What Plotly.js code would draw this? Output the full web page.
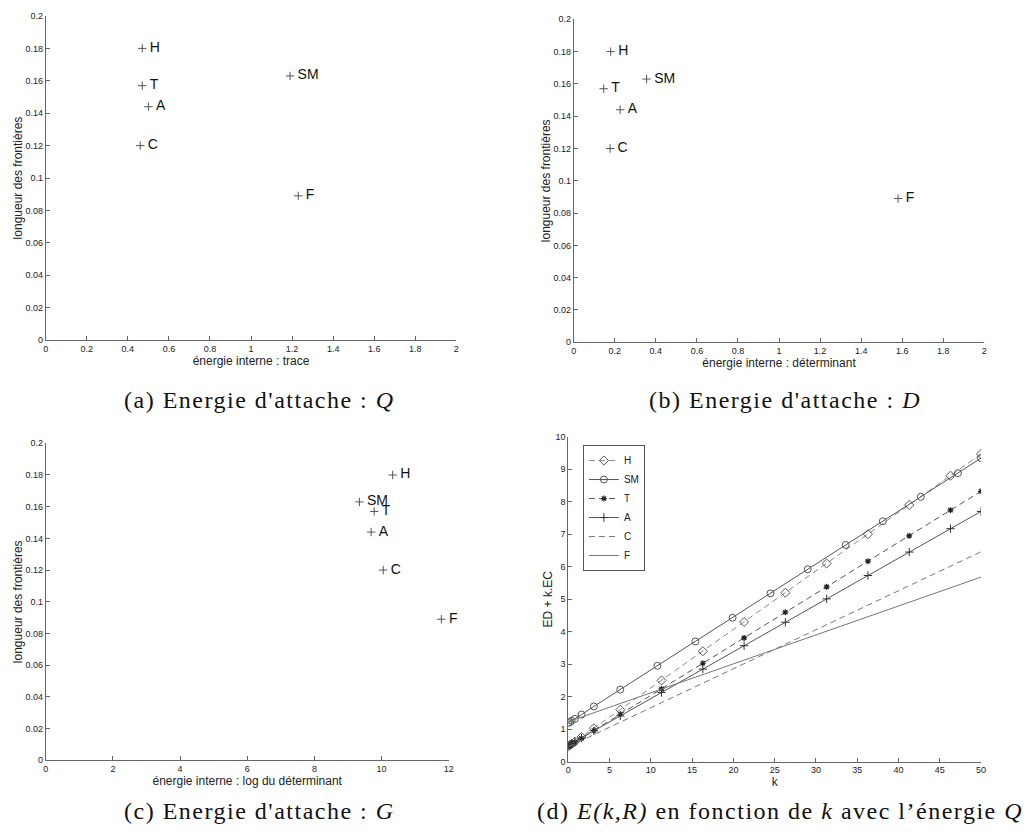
<!DOCTYPE html>
<html>
<head>
<meta charset="utf-8">
<script src="https://cdn.plot.ly/plotly-3.0.1.min.js"></script>
<style>
  html, body { margin: 0; padding: 0; background: #ffffff; }
  #chart { width: 1028px; height: 832px; }
  .annotation-text { letter-spacing: 1.5px; }
</style>
</head>
<body>
<div id="chart"></div>
<script>
// ---- Data for panels (a)-(c) ----
const labels = ['H', 'SM', 'T', 'A', 'C', 'F'];
const boundaryLength = [0.180, 0.163, 0.157, 0.144, 0.120, 0.089];
const energyTrace = [0.47, 1.19, 0.47, 0.50, 0.46, 1.23];
const energyDet = [0.18, 0.355, 0.146, 0.226, 0.177, 1.58];
const energyLogDet = [10.33, 9.34, 9.78, 9.69, 10.05, 11.78];

// ---- Data for panel (d) ----
const kH = [0, 0.2, 0.4, 0.8, 1.6, 3.1, 6.3, 11.3, 16.3, 21.3, 26.3, 31.3, 36.3, 41.3, 46.3, 50];
const eH = [0.47, 0.51, 0.54, 0.61, 0.76, 1.03, 1.60, 2.50, 3.40, 4.30, 5.20, 6.10, 7.00, 7.90, 8.80, 9.47];
const kSM = [0, 0.2, 0.4, 0.8, 1.6, 3.1, 6.3, 10.8, 15.4, 19.9, 24.5, 29.0, 33.6, 38.1, 42.7, 47.2, 50];
const eSM = [1.19, 1.22, 1.26, 1.32, 1.45, 1.70, 2.22, 2.95, 3.70, 4.43, 5.18, 5.92, 6.67, 7.40, 8.15, 8.88, 9.34];
const kT = [0, 0.2, 0.4, 0.8, 1.6, 3.1, 6.3, 11.3, 16.3, 21.3, 26.3, 31.3, 36.3, 41.3, 46.3, 50];
const eT = [0.47, 0.50, 0.53, 0.60, 0.72, 0.96, 1.46, 2.24, 3.03, 3.81, 4.60, 5.38, 6.17, 6.95, 7.74, 8.32];
const kA = [0, 0.2, 0.4, 0.8, 1.6, 3.1, 6.3, 11.3, 16.3, 21.3, 26.3, 31.3, 36.3, 41.3, 46.3, 50];
const eA = [0.50, 0.53, 0.56, 0.62, 0.73, 0.95, 1.41, 2.13, 2.85, 3.57, 4.29, 5.01, 5.73, 6.45, 7.17, 7.70];
const kC = [0, 10, 20, 30, 40, 50];
const eC = [0.46, 1.66, 2.86, 4.06, 5.26, 6.46];
const kF = [0, 10, 20, 30, 40, 50];
const eF = [1.23, 2.12, 3.01, 3.90, 4.79, 5.68];

const captions = [
  "(a) Energie d'attache : <i>Q</i>",
  "(b) Energie d'attache : <i>D</i>",
  "(c) Energie d'attache : <i>G</i>",
  "(d) <i>E(k,R)</i> en fonction de <i>k</i> avec l\u2019\u00e9nergie <i>Q</i>"
];

const SANS = 'Liberation Sans, Arial, sans-serif';
const SERIF = 'Liberation Serif, Times New Roman, serif';
const DASH = '6px,4px';

function scatterPanel(xs, xa, ya) {
  return {
    x: xs, y: boundaryLength, text: labels.map(s => '\u2009' + s),
    xaxis: xa, yaxis: ya,
    type: 'scatter', mode: 'markers+text',
    textposition: 'middle right',
    textfont: { family: SANS, size: 14, color: '#111' },
    marker: { symbol: 'cross-thin-open', size: 6, color: '#555', line: { color: '#555', width: 1 } },
    showlegend: false, hoverinfo: 'skip', cliponaxis: false
  };
}

const traces = [
  scatterPanel(energyTrace, 'x', 'y'),
  scatterPanel(energyDet, 'x2', 'y2'),
  scatterPanel(energyLogDet, 'x3', 'y3'),
  { x: kH, y: eH, name: 'H', xaxis: 'x4', yaxis: 'y4', type: 'scatter', mode: 'lines+markers',
    line: { color: '#8a8a8a', width: 1, dash: DASH },
    marker: { symbol: 'diamond-open', size: 7, color: '#555', line: { width: 1 } } },
  { x: kSM, y: eSM, name: 'SM', xaxis: 'x4', yaxis: 'y4', type: 'scatter', mode: 'lines+markers',
    line: { color: '#555', width: 1 },
    marker: { symbol: 'circle-open', size: 7, color: '#555', line: { width: 1 } } },
  { x: kT, y: eT, name: 'T', xaxis: 'x4', yaxis: 'y4', type: 'scatter', mode: 'lines+markers',
    line: { color: '#555', width: 1, dash: DASH },
    marker: { symbol: 'asterisk-open', size: 5, color: '#222', line: { width: 1.2, color: '#222' } } },
  { x: kA, y: eA, name: 'A', xaxis: 'x4', yaxis: 'y4', type: 'scatter', mode: 'lines+markers',
    line: { color: '#555', width: 1 },
    marker: { symbol: 'cross-thin-open', size: 6, color: '#333', line: { width: 1, color: '#333' } } },
  { x: kC, y: eC, name: 'C', xaxis: 'x4', yaxis: 'y4', type: 'scatter', mode: 'lines',
    line: { color: '#777', width: 1, dash: DASH } },
  { x: kF, y: eF, name: 'F', xaxis: 'x4', yaxis: 'y4', type: 'scatter', mode: 'lines',
    line: { color: '#777', width: 1 } }
];
traces.forEach(t => { if (t.hoverinfo === undefined) t.hoverinfo = 'skip'; });

function xAxis(domain, range, dtick, title, anchor) {
  return {
    domain: domain, range: range, dtick: dtick, tick0: 0, anchor: anchor,
    showgrid: false, zeroline: false, showline: true, linecolor: '#666', linewidth: 1,
    ticks: 'inside', ticklen: 4, tickcolor: '#666', mirror: false,
    tickfont: { family: SANS, size: 9, color: '#222' },
    title: { text: title, font: { family: SANS, size: 12, color: '#222' }, standoff: 3 },
    fixedrange: true, automargin: false
  };
}
function yAxis(domain, range, dtick, title, anchor) {
  return {
    domain: domain, range: range, dtick: dtick, tick0: 0, anchor: anchor,
    showgrid: false, zeroline: false, showline: true, linecolor: '#666', linewidth: 1,
    ticks: 'inside', ticklen: 4, tickcolor: '#666', mirror: false,
    tickfont: { family: SANS, size: 9, color: '#222' },
    title: { text: title, font: { family: SANS, size: 12, color: '#222' }, standoff: 0 },
    fixedrange: true, automargin: false
  };
}

const yTitle = 'longueur des fronti\u00e8res';

const layout = {
  width: 1028, height: 832,
  margin: { l: 0, r: 0, t: 0, b: 0 },
  paper_bgcolor: '#ffffff', plot_bgcolor: '#ffffff',
  font: { family: SANS, color: '#222' },
  xaxis: xAxis([0.0445, 0.4439], [0, 2], 0.2, '\u00e9nergie interne : trace', 'y'),
  yaxis: yAxis([0.5913, 0.9808], [0, 0.2], 0.02, yTitle, 'x'),
  xaxis2: xAxis([0.5581, 0.9575], [0, 2], 0.2, '\u00e9nergie interne : d\u00e9terminant', 'y2'),
  yaxis2: yAxis([0.5886, 0.9768], [0, 0.2], 0.02, yTitle, 'x2'),
  xaxis3: xAxis([0.0445, 0.4365], [0, 12], 2, '\u00e9nergie interne : log du d\u00e9terminant', 'y3'),
  yaxis3: yAxis([0.0862, 0.4672], [0, 0.2], 0.02, yTitle, 'x3'),
  xaxis4: xAxis([0.5528, 0.9543], [0, 50], 5, 'k', 'y4'),
  yaxis4: yAxis([0.0845, 0.4751], [0, 10], 1, 'ED + k.EC', 'x4'),
  showlegend: true,
  legend: {
    x: 0.567, y: 0.4651, xanchor: 'left', yanchor: 'top',
    bgcolor: '#ffffff', bordercolor: '#555', borderwidth: 1,
    font: { family: SANS, size: 10, color: '#222' },
    itemwidth: 30, tracegroupgap: 0
  },
  annotations: [
    { text: captions[0], x: 0.2520, y: 0.5192 },
    { text: captions[1], x: 0.7636, y: 0.5192 },
    { text: captions[2], x: 0.2520, y: 0.0252 },
    { text: captions[3], x: 0.7587, y: 0.0252 }
  ].map(a => Object.assign(a, {
    xref: 'paper', yref: 'paper', xanchor: 'center', yanchor: 'middle',
    showarrow: false, font: { family: SERIF, size: 24, color: '#111' }
  }))
};

Plotly.newPlot('chart', traces, layout, { displayModeBar: false, staticPlot: true });
</script>
</body>
</html>
